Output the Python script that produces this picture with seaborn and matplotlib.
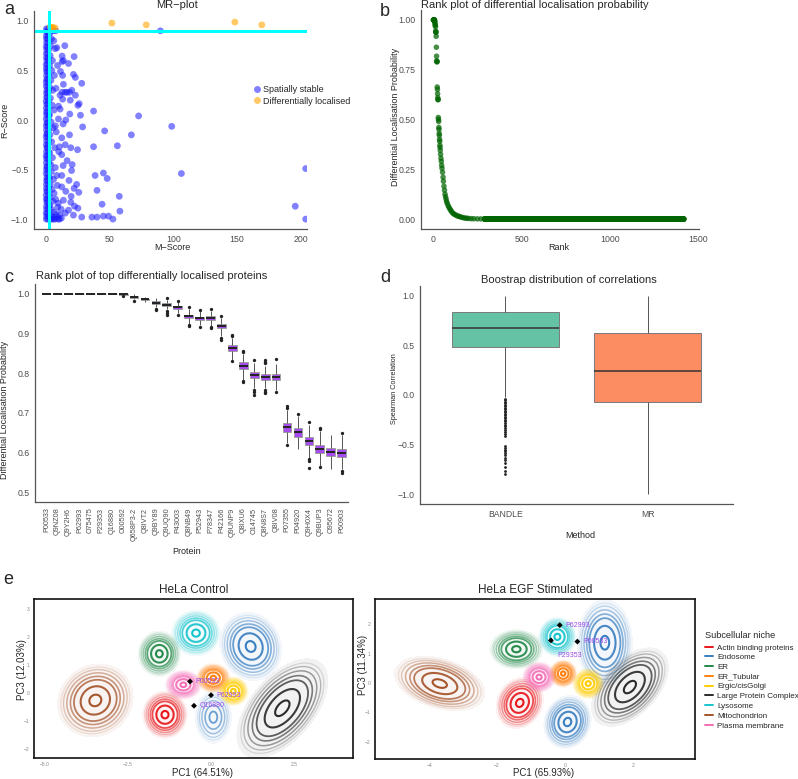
import numpy as np
import pandas as pd
import matplotlib
matplotlib.use("Agg")
import matplotlib.pyplot as plt
from matplotlib.colors import to_rgba
from matplotlib.lines import Line2D
import seaborn as sns

sns.set_style("white")
plt.rcParams["font.family"] = ["Liberation Sans", "DejaVu Sans"]

W, H = 798, 779

# ---------------------------------------------------------
# a: MR-plot (M-score vs R-score)
# ---------------------------------------------------------
A_M_CUTOFF = 2.4
A_R_CUTOFF = 0.9

# dense band of spatially stable proteins right at M ~ 0
A_BAND_R = [-1.0, -0.97, -0.94, -0.9, -0.87, -0.83, -0.8, -0.76, -0.72, -0.69, -0.65,
            -0.61, -0.58, -0.54, -0.5, -0.47, -0.43, -0.39, -0.36, -0.32, -0.28, -0.25,
            -0.21, -0.17, -0.14, -0.1, -0.06, -0.03, 0.01, 0.05, 0.08, 0.12, 0.16, 0.19,
            0.23, 0.27, 0.3, 0.34, 0.38, 0.41, 0.45, 0.49, 0.52, 0.56, 0.6, 0.63, 0.67,
            0.71, 0.74, 0.78, 0.82, 0.85, 0.89, 0.92]
A_BAND_M_LEFT = [0.2, 0.5, 0.1, 0.4, 0.3, 0.6, 0.2, 0.1, 0.5, 0.3, 0.2, 0.4, 0.6, 0.1,
                 0.3, 0.5, 0.2, 0.4, 0.1, 0.3, 0.6, 0.2, 0.4, 0.1, 0.5, 0.3, 0.2, 0.6,
                 0.1, 0.4, 0.3, 0.2, 0.5, 0.1, 0.4, 0.3, 0.6, 0.2, 0.1, 0.5, 0.3, 0.4,
                 0.2, 0.1, 0.6, 0.3, 0.2, 0.5, 0.1, 0.4, 0.3, 0.2, 0.5, 0.3]
A_BAND_M_RIGHT = [1.4, 1.9, 1.2, 1.7, 2.1, 1.5, 1.1, 1.8, 1.3, 2.0, 1.6, 1.2, 1.9, 1.4,
                  1.7, 1.1, 2.2, 1.5, 1.3, 1.8, 1.2, 1.6, 2.0, 1.4, 1.1, 1.9, 1.5, 1.3,
                  1.7, 2.1, 1.2, 1.6, 1.4, 1.8, 1.1, 1.5, 2.0, 1.3, 1.7, 1.2, 1.9, 1.4,
                  1.6, 1.1, 1.8, 1.5, 1.3, 2.0, 1.2, 1.6, 1.4, 1.7, 1.3, 1.5]

# stable proteins spilling out of the band
A_SPREAD_M = [3.0, 4.2, 5.5, 7.5, 3.5, 6.0, 8.5, 3.2, 5.0, 2.8, 4.5, 6.5, 3.8, 2.9, 5.2,
              7.8, 3.4, 4.8, 6.2, 2.7, 3.9, 5.6, 8.0, 3.1, 4.4, 6.8, 2.8, 5.0, 3.6, 7.2,
              4.1, 2.9, 5.8, 3.3, 4.7, 8.8, 6.3, 3.0, 5.4, 7.5, 2.8, 4.0, 6.0, 3.5, 5.0,
              7.0, 8.5, 9.5, 3.2, 4.5, 6.0, 10.5, 12.0, 8.0, 9.0]
A_SPREAD_R = [0.88, 0.82, 0.9, 0.9, 0.75, 0.8, 0.73, 0.65, 0.6, 0.55, 0.5, 0.45, 0.4,
              0.33, 0.3, 0.32, 0.22, 0.15, 0.1, 0.05, -0.02, -0.08, -0.12, -0.15, -0.22,
              -0.28, -0.33, -0.38, -0.45, -0.48, -0.52, -0.58, -0.6, -0.65, -0.7, -0.66,
              -0.74, -0.78, -0.82, -0.8, -0.86, -0.9, -0.93, -0.96, -0.98, -1.0, -0.98,
              -1.0, -1.0, -1.0, -1.0, -1.0, -0.99, -0.95, -0.88]

# scattered stable proteins further out
A_FAR_M = [89.8, 72.7, 98.7, 106.3, 204.0, 195.8, 204.0, 52.5, 49.0, 45.0, 36.0, 40.0,
           58.0, 57.5, 44.0, 40.0, 48.0, 45.0, 38.5, 37.3, 46.0, 56.0, 67.0, 37.3, 25.0,
           27.0, 28.7, 24.7, 19.4, 23.0, 26.0, 19.0, 20.2, 18.4, 28.0, 21.5, 23.0, 22.0,
           14.7, 12.6, 13.6, 12.6, 9.0, 7.2, 11.3, 17.6, 13.0, 13.6, 15.0, 12.6, 16.3,
           11.0, 13.0, 9.7, 11.0, 18.6, 15.5, 9.7, 13.4, 7.3, 18.4, 12.3, 15.0, 10.5,
           10.0, 12.3, 16.5, 20.5, 20.0, 13.4, 12.3, 8.4, 18.0, 24.0, 12.3, 15.5, 22.0,
           25.7, 19.7, 13.6, 9.7, 19.4, 22.3, 25.0, 17.6, 15.0, 28.0, 21.5, 10.5, 11.8]
A_FAR_R = [0.9, 0.041, -0.064, -0.54, -0.49, -0.87, -1.0, -1.0, -0.97, -0.97, -0.98, -0.98,
           -0.92, -0.77, -0.85, -0.71, -0.59, -0.535, -0.56, -0.27, -0.11, -0.26, -0.15,
           0.09, 0.148, 0.048, -0.07, -0.3, -0.28, 0.25, 0.165, 0.2, 0.3, 0.28, 0.37, 0.46,
           0.43, 0.64, 0.75, 0.645, 0.6, 0.59, 0.55, 0.72, 0.49, 0.57, 0.45, 0.36, 0.28,
           0.28, 0.28, 0.25, 0.21, 0.14, 0.11, 0.06, 0.0, 0.01, -0.04, -0.06, -0.15, -0.18,
           -0.25, -0.27, -0.32, -0.35, -0.41, -0.45, -0.51, -0.46, -0.56, -0.56, -0.61,
           -0.65, -0.675, -0.72, -0.69, -0.73, -0.77, -0.81, -0.84, -0.83, -0.87, -0.89,
           -0.91, -0.94, -0.98, -0.96, -0.96, -0.9]

A_DIFF_M = [3.2, 4.5, 5.5, 7.1, 51.7, 78.7, 148.3, 169.5]
A_DIFF_R = [0.94, 0.935, 0.93, 0.93, 0.978, 0.96, 0.988, 0.96]

# ---------------------------------------------------------
# b: rank plot of differential localisation probability
# ---------------------------------------------------------
B_RANK = list(range(1, 41)) + [42, 44, 46, 48, 50, 53, 56, 58, 61, 64, 67, 70, 73, 76, 80,
                               85, 90, 95, 100, 106, 113, 120, 128, 136, 144, 151, 160,
                               170, 180, 190, 200, 215, 230, 250, 270, 290]
B_PROB = [1.0, 1.0, 1.0, 1.0, 1.0, 1.0, 1.0, 0.999, 0.992, 0.986, 0.977, 0.973, 0.966,
          0.944, 0.939, 0.938, 0.918, 0.863, 0.818, 0.795, 0.79, 0.79, 0.663, 0.651,
          0.629, 0.609, 0.601, 0.599, 0.51, 0.5, 0.49, 0.46, 0.45, 0.43, 0.42, 0.4, 0.39,
          0.37, 0.36, 0.345,
          0.325, 0.305, 0.29, 0.27, 0.255, 0.235, 0.21, 0.19, 0.165, 0.145, 0.125, 0.112,
          0.1, 0.088, 0.078, 0.067, 0.058, 0.05, 0.043, 0.035, 0.028, 0.024, 0.02, 0.016,
          0.014, 0.012, 0.009, 0.007, 0.005, 0.004, 0.003, 0.002, 0.0015, 0.001, 0.0007,
          0.0004]
B_N_PROTEINS = 1420  # every protein past the last listed rank sits at 0

# ---------------------------------------------------------
# c: bootstrap boxes for the top proteins
# ---------------------------------------------------------
C_PROTEINS = ["P00533", "Q9NZ08", "Q9Y2H6", "P62993", "O75475", "P29353", "Q16880",
              "O00592", "Q658P3-2", "Q8IVT2", "Q9BY89", "Q9UQ90", "P43003", "Q8NB49",
              "P52943", "P78347", "P42166", "Q9UNP9", "Q8IXU6", "O14745", "Q8N8S7",
              "Q8IV08", "P07355", "P04920", "Q9H0X4", "Q9BUP3", "O95672", "P60903"]
C_MEDIAN = [1.0, 1.0, 1.0, 1.0, 1.0, 1.0, 1.0, 0.999, 0.992, 0.986, 0.977, 0.973, 0.966,
            0.944, 0.938, 0.939, 0.918, 0.863, 0.818, 0.795, 0.79, 0.79, 0.663, 0.651,
            0.629, 0.609, 0.601, 0.599]
C_Q1 = [1.0, 1.0, 1.0, 1.0, 1.0, 1.0, 1.0, 0.998, 0.99, 0.984, 0.974, 0.97, 0.963, 0.939,
        0.933, 0.934, 0.913, 0.856, 0.81, 0.787, 0.784, 0.783, 0.652, 0.64, 0.618, 0.599,
        0.591, 0.589]
C_Q3 = [1.0, 1.0, 1.0, 1.0, 1.0, 1.0, 1.0, 1.0, 0.995, 0.988, 0.981, 0.977, 0.969, 0.948,
        0.943, 0.944, 0.924, 0.87, 0.827, 0.804, 0.797, 0.798, 0.675, 0.661, 0.639, 0.62,
        0.61, 0.609]
C_WHISK_LO = [1.0, 1.0, 1.0, 1.0, 1.0, 1.0, 1.0, 0.997, 0.986, 0.979, 0.966, 0.961, 0.953,
              0.925, 0.921, 0.92, 0.893, 0.834, 0.783, 0.762, 0.763, 0.757, 0.625, 0.609,
              0.587, 0.566, 0.559, 0.557]
C_WHISK_HI = [1.0, 1.0, 1.0, 1.0, 1.0, 1.0, 1.0, 1.0, 1.0, 0.993, 0.99, 0.985, 0.979,
              0.962, 0.957, 0.958, 0.94, 0.888, 0.848, 0.826, 0.818, 0.822, 0.708, 0.692,
              0.67, 0.655, 0.645, 0.644]
C_FLIERS = [("O00592", 0.994), ("Q658P3-2", 0.983), ("Q9BY89", 0.962), ("Q9BY89", 0.959),
            ("Q9UQ90", 0.989), ("Q9UQ90", 0.957), ("Q9UQ90", 0.952), ("Q9UQ90", 0.947),
            ("P43003", 0.983), ("P43003", 0.947), ("Q8NB49", 0.967), ("Q8NB49", 0.922),
            ("Q8NB49", 0.919), ("P52943", 0.96), ("P52943", 0.916), ("P78347", 0.961),
            ("P78347", 0.916), ("P78347", 0.913), ("P42166", 0.944), ("P42166", 0.888),
            ("P42166", 0.884), ("Q9UNP9", 0.893), ("Q9UNP9", 0.896), ("Q9UNP9", 0.83),
            ("Q8IXU6", 0.853), ("Q8IXU6", 0.856), ("Q8IXU6", 0.78), ("Q8IXU6", 0.777),
            ("O14745", 0.832), ("O14745", 0.758), ("O14745", 0.753), ("O14745", 0.745),
            ("Q8N8S7", 0.825), ("Q8N8S7", 0.829), ("Q8N8S7", 0.833), ("Q8N8S7", 0.758),
            ("Q8N8S7", 0.753), ("Q8N8S7", 0.749), ("Q8IV08", 0.837), ("Q8IV08", 0.752),
            ("P07355", 0.713), ("P07355", 0.718), ("P07355", 0.619), ("P04920", 0.698),
            ("Q9H0X4", 0.676), ("Q9H0X4", 0.584), ("Q9H0X4", 0.578), ("Q9H0X4", 0.561),
            ("Q9BUP3", 0.662), ("Q9BUP3", 0.659), ("Q9BUP3", 0.563), ("P60903", 0.648),
            ("P60903", 0.553), ("P60903", 0.549)]

# ---------------------------------------------------------
# d: bootstrap distribution of correlations
# ---------------------------------------------------------
D_METHODS = ["BANDLE", "MR"]
D_MEDIAN = [0.681, 0.247]
D_Q1 = [0.486, -0.066]
D_Q3 = [0.839, 0.627]
D_WHISK_LO = [-0.025, -1.0]
D_WHISK_HI = [1.0, 1.0]
D_BANDLE_FLIERS = [-0.04, -0.055, -0.07, -0.085, -0.1, -0.115, -0.13, -0.145, -0.16,
                   -0.175, -0.19, -0.205, -0.22, -0.235, -0.25, -0.265, -0.28, -0.3,
                   -0.315, -0.33, -0.35, -0.37, -0.39, -0.41, -0.515, -0.53, -0.55,
                   -0.57, -0.59, -0.61, -0.635, -0.66, -0.69, -0.73, -0.77, -0.8]

# ---------------------------------------------------------
# e: PCA density contours per subcellular niche
# ---------------------------------------------------------
E_NICHES = ["Actin binding proteins", "Endosome", "ER", "ER_Tubular", "Ergic/cisGolgi",
            "Large Protein Complex", "Lysosome", "Mitochondrion", "Plasma membrane"]
E_COLOURS = ["#e8161b", "#3a7fc1", "#23894a", "#ff7f0e", "#ffcc00", "#2b2b2b",
             "#16c4cc", "#a5542b", "#f56fb8"]

# one row per density component: niche, centre, spread, correlation, weight
E_CTRL_NICHE = ["Actin binding proteins", "Endosome", "Endosome", "ER", "ER_Tubular",
                "Ergic/cisGolgi", "Large Protein Complex", "Lysosome", "Mitochondrion",
                "Plasma membrane"]
E_CTRL_X = [-1.38, 1.19, 0.07, -1.55, 0.07, 0.67, 2.14, -0.45, -3.47, -0.83]
E_CTRL_Y = [-0.77, 1.67, -0.86, 1.41, 0.54, 0.07, -0.54, 2.15, -0.26, 0.30]
E_CTRL_SX = [0.23, 0.32, 0.22, 0.22, 0.175, 0.155, 0.47, 0.25, 0.39, 0.19]
E_CTRL_SY = [0.29, 0.42, 0.38, 0.28, 0.18, 0.18, 0.61, 0.28, 0.45, 0.18]
E_CTRL_RHO = [0.0, -0.1, 0.0, 0.0, 0.0, 0.0, 0.55, 0.0, 0.1, 0.0]
E_CTRL_W = [1.0, 1.0, 0.3, 1.0, 1.0, 1.0, 1.0, 1.0, 1.0, 1.0]

E_EGF_NICHE = E_CTRL_NICHE
E_EGF_X = [-1.33, 1.18, 0.08, -1.43, -0.05, 0.69, 1.92, -0.22, -3.69, -0.76]
E_EGF_Y = [-0.68, 1.37, -1.33, 1.15, 0.32, -0.02, -0.14, 1.57, -0.02, 0.2]
E_EGF_SX = [0.24, 0.28, 0.24, 0.27, 0.14, 0.16, 0.39, 0.19, 0.46, 0.17]
E_EGF_SY = [0.3, 0.51, 0.31, 0.23, 0.16, 0.18, 0.46, 0.23, 0.32, 0.18]
E_EGF_RHO = [0.15, 0.0, 0.1, 0.0, 0.0, 0.0, 0.5, 0.0, -0.35, 0.0]
E_EGF_W = [1.0, 1.0, 1.0, 1.0, 1.0, 1.0, 1.0, 1.0, 1.0, 1.0]

E_CTRL_PROT = ["P00533", "P62993", "Q16880"]
E_CTRL_PX = [-0.63, 0.0, -0.51]
E_CTRL_PY = [0.42, -0.07, -0.45]
E_EGF_PROT = ["P62993", "P29353", "P00533"]
E_EGF_PX = [-0.15, -0.41, 0.37]
E_EGF_PY = [1.97, 1.45, 1.41]

# contour styling (fraction of each niche's peak density)
E_LEVELS = [0.03, 0.05, 0.09, 0.16, 0.26, 0.53, 0.9]
E_LEVEL_ALPHA = [0.15, 0.3, 0.45, 0.6, 0.75, 0.92, 1.0]
E_LEVEL_LW = [0.9, 1.0, 1.1, 1.2, 1.3, 1.5, 1.5]

TICK_GREY = "#4d4d4d"
AXIS_GREY = "#555555"
LABEL_PURPLE = "#9d4ae8"


def px_axes(fig, x0, y0, x1, y1):
    return fig.add_axes([x0 / W, 1 - y1 / H, (x1 - x0) / W, (y1 - y0) / H])


def px_text(fig, x, y, s, **kw):
    fig.text(x / W, 1 - y / H, s, **kw)


def classic_axes(ax, labelsize=6.3):
    for side in ["top", "right"]:
        ax.spines[side].set_visible(False)
    for side in ["left", "bottom"]:
        ax.spines[side].set_color(AXIS_GREY)
        ax.spines[side].set_linewidth(0.9)
    ax.tick_params(colors=AXIS_GREY, labelcolor=TICK_GREY, labelsize=labelsize,
                   length=2.5, width=0.6, pad=1.5)
    ax.set_xlabel("")
    ax.set_ylabel("")
    ax.grid(False)


def summary_sample(lo, q1, med, q3, hi, k=20):
    # a sample whose quartiles and extremes are exactly the read values
    return [lo] + [q1] * k + [med] * k + [q3] * k + [hi]


def draw_niches(ax, niche_col, xs, ys, sxs, sys_, rhos, ws, xlim, ylim):
    gx = np.linspace(xlim[0], xlim[1], 420)
    gy = np.linspace(ylim[0], ylim[1], 320)
    X, Y = np.meshgrid(gx, gy)
    for niche, colour in zip(E_NICHES, E_COLOURS):
        Z = np.zeros_like(X)
        for n, cx, cy, sx, sy, r, w in zip(niche_col, xs, ys, sxs, sys_, rhos, ws):
            if n != niche:
                continue
            dx = (X - cx) / sx
            dy = (Y - cy) / sy
            Z += w * np.exp(-(dx ** 2 - 2 * r * dx * dy + dy ** 2) / (2 * (1 - r ** 2)))
        Z /= Z.max()
        ax.contourf(X, Y, Z, levels=[0.015, 1.01], colors=[to_rgba(colour, 0.06)])
        cols = [to_rgba(colour, a) for a in E_LEVEL_ALPHA]
        ax.contour(X, Y, Z, levels=E_LEVELS, colors=cols, linewidths=E_LEVEL_LW)


def frame_axes(ax):
    for side in ["top", "right", "left", "bottom"]:
        ax.spines[side].set_visible(True)
        ax.spines[side].set_color("#111111")
        ax.spines[side].set_linewidth(1.2)
    ax.tick_params(length=0, labelsize=3.6, labelcolor="#8a8a8a", pad=3)
    ax.set_xlabel("")
    ax.set_ylabel("")
    ax.grid(False)


fig = plt.figure(figsize=(W / 100, H / 100), dpi=100)

# ---------------- a ----------------
ax = px_axes(fig, 34, 11, 307, 229)
stable_m = A_BAND_M_LEFT + A_BAND_M_RIGHT + A_SPREAD_M + A_FAR_M
stable_r = A_BAND_R + A_BAND_R + A_SPREAD_R + A_FAR_R
sns.scatterplot(x=stable_m, y=stable_r, color="#1a1aff", alpha=0.55, s=24,
                edgecolor="none", ax=ax)
sns.scatterplot(x=A_DIFF_M, y=A_DIFF_R, color="#ffa500", alpha=0.6, s=24,
                edgecolor="none", ax=ax)
ax.axvline(A_M_CUTOFF, color="#00ffff", lw=2.2)
ax.axhline(A_R_CUTOFF, color="#00ffff", lw=2.2)
ax.set_xlim(-9.5, 205)
ax.set_ylim(-1.1, 1.1)
ax.set_xticks([0, 50, 100, 150, 200])
ax.set_yticks([-1.0, -0.5, 0.0, 0.5, 1.0])
classic_axes(ax)
handles = [Line2D([0], [0], marker="o", ls="", color="#1a1aff", alpha=0.55, ms=5, mec="none"),
           Line2D([0], [0], marker="o", ls="", color="#ffa500", alpha=0.6, ms=5, mec="none")]
fig.legend(handles, ["Spatially stable", "Differentially localised"], loc="center left",
           bbox_to_anchor=(252 / W, 1 - 95.5 / H), frameon=False, fontsize=6.5,
           handletextpad=0.2, labelspacing=0.25, handlelength=1.0, borderaxespad=0,
           borderpad=0)
px_text(fig, 177, 5, "MR\u2212plot", fontsize=8, ha="center", va="center")
px_text(fig, 172, 248, "M\u2212Score", fontsize=6.5, ha="center", va="center")
px_text(fig, 5, 120, "R\u2212Score", fontsize=6.5, ha="center", va="center", rotation=90)

# ---------------- b ----------------
ax = px_axes(fig, 421, 10, 699, 229)
tail = np.arange(B_RANK[-1] + 1, B_N_PROTEINS + 1)
ranks = np.concatenate([B_RANK, tail])
probs = np.concatenate([B_PROB, np.zeros(len(tail))])
sns.scatterplot(x=ranks, y=probs, color="#006400", alpha=0.72, s=16, edgecolor="none", ax=ax)
ax.set_xlim(-69, 1505)
ax.set_ylim(-0.05, 1.05)
ax.set_xticks([0, 500, 1000, 1500])
ax.set_yticks([0.0, 0.25, 0.5, 0.75, 1.0])
ax.yaxis.set_major_formatter(matplotlib.ticker.FormatStrFormatter("%.2f"))
classic_axes(ax)
px_text(fig, 421, 5, "Rank plot of differential localisation probability", fontsize=8,
        ha="left", va="center")
px_text(fig, 559, 248, "Rank", fontsize=6.5, ha="center", va="center")
px_text(fig, 395, 117, "Differential Localisation Probability", fontsize=6.5,
        ha="center", va="center", rotation=90)

# ---------------- c ----------------
ax = px_axes(fig, 35, 284, 348, 502)
rows = []
for p, lo, q1, md, q3, hi in zip(C_PROTEINS, C_WHISK_LO, C_Q1, C_MEDIAN, C_Q3, C_WHISK_HI):
    rows += [(p, v) for v in summary_sample(lo, q1, md, q3, hi)]
c_df = pd.DataFrame(rows, columns=["Protein", "Probability"])
sns.boxplot(data=c_df, x="Protein", y="Probability", order=C_PROTEINS, color="#a64cf0",
            saturation=1, width=0.8, whis=(0, 100), showfliers=False, showcaps=False,
            linewidth=0.7, linecolor="#555555",
            boxprops=dict(edgecolor="#a0a0a0"),
            medianprops=dict(color="#222222", linewidth=1.4), ax=ax)
sns.stripplot(x=[p for p, v in C_FLIERS], y=[v for p, v in C_FLIERS], order=C_PROTEINS,
              jitter=False, color="#222222", size=2.4, ax=ax)
ax.set_xlim(-1.07, 27.58)
ax.set_ylim(0.475, 1.025)
ax.set_yticks([0.5, 0.6, 0.7, 0.8, 0.9, 1.0])
classic_axes(ax)
ax.tick_params(axis="x", labelrotation=90, labelsize=5.2)
px_text(fig, 36, 276, "Rank plot of top differentially localised proteins", fontsize=8,
        ha="left", va="center")
px_text(fig, 187, 552, "Protein", fontsize=6.5, ha="center", va="center")
px_text(fig, 5, 410, "Differential Localisation Probability", fontsize=6.5,
        ha="center", va="center", rotation=90)

# ---------------- d ----------------
ax = px_axes(fig, 420, 286, 733, 504)
rows = []
for m, lo, q1, md, q3, hi in zip(D_METHODS, D_WHISK_LO, D_Q1, D_MEDIAN, D_Q3, D_WHISK_HI):
    rows += [(m, v) for v in summary_sample(lo, q1, md, q3, hi)]
d_df = pd.DataFrame(rows, columns=["Method", "Correlation"])
sns.boxplot(data=d_df, x="Method", y="Correlation", hue="Method", order=D_METHODS,
            palette=dict(zip(D_METHODS, ["#66c2a5", "#fc8d62"])), legend=False,
            saturation=1, width=0.75, whis=(0, 100), showfliers=False, showcaps=False,
            linewidth=0.7, linecolor="#555555",
            boxprops=dict(edgecolor="#7a7a7a"),
            medianprops=dict(color="#333333", linewidth=1.1), ax=ax)
sns.stripplot(x=["BANDLE"] * len(D_BANDLE_FLIERS), y=D_BANDLE_FLIERS, order=D_METHODS,
              jitter=False, color="#222222", size=2.0, ax=ax)
ax.set_xlim(-0.6, 1.6)
ax.set_ylim(-1.1, 1.1)
ax.set_yticks([-1.0, -0.5, 0.0, 0.5, 1.0])
classic_axes(ax, labelsize=6.2)
px_text(fig, 569, 280, "Boostrap distribution of correlations", fontsize=8,
        ha="center", va="center")
px_text(fig, 580, 535, "Method", fontsize=6.5, ha="center", va="center")
px_text(fig, 395, 389, "Spearman Correlation", fontsize=5.2, ha="center", va="center",
        rotation=90)

# ---------------- e ----------------
ax = px_axes(fig, 34, 599, 353, 758)
xlim, ylim = (-5.31, 4.26), (-2.32, 3.37)
draw_niches(ax, E_CTRL_NICHE, E_CTRL_X, E_CTRL_Y, E_CTRL_SX, E_CTRL_SY, E_CTRL_RHO,
            E_CTRL_W, xlim, ylim)
sns.scatterplot(x=E_CTRL_PX, y=E_CTRL_PY, marker="D", color="black", s=9,
                edgecolor="none", ax=ax, zorder=5)
for name, px, py in zip(E_CTRL_PROT, E_CTRL_PX, E_CTRL_PY):
    ax.text(px + 0.17, py, name, color=LABEL_PURPLE, fontsize=5, va="center", zorder=6)
ax.set_xlim(*xlim)
ax.set_ylim(*ylim)
ax.set_xticks([-5.0, -2.5, 0.0, 2.5])
ax.set_yticks([-2, -1, 0, 1, 2, 3])
frame_axes(ax)
px_text(fig, 194, 590, "HeLa Control", fontsize=8.5, ha="center", va="center")
px_text(fig, 203, 773, "PC1 (64.51%)", fontsize=7, ha="center", va="center")
px_text(fig, 22, 670, "PC3 (12.03%)", fontsize=7, ha="center", va="center", rotation=90)

ax = px_axes(fig, 375, 599, 695, 759)
xlim, ylim = (-5.6, 3.84), (-2.59, 2.86)
draw_niches(ax, E_EGF_NICHE, E_EGF_X, E_EGF_Y, E_EGF_SX, E_EGF_SY, E_EGF_RHO,
            E_EGF_W, xlim, ylim)
sns.scatterplot(x=E_EGF_PX, y=E_EGF_PY, marker="D", color="black", s=9,
                edgecolor="none", ax=ax, zorder=5)
label_offset = {"P29353": (0.19, -0.51)}
for name, px, py in zip(E_EGF_PROT, E_EGF_PX, E_EGF_PY):
    dx, dy = label_offset.get(name, (0.18, 0.0))
    ax.text(px + dx, py + dy, name, color=LABEL_PURPLE, fontsize=5, va="center", zorder=6)
ax.set_xlim(*xlim)
ax.set_ylim(*ylim)
ax.set_xticks([-4, -2, 0, 2])
ax.set_yticks([-2, -1, 0, 1, 2])
frame_axes(ax)
px_text(fig, 535, 590, "HeLa EGF Stimulated", fontsize=8.5, ha="center", va="center")
px_text(fig, 544, 773, "PC1 (65.93%)", fontsize=7, ha="center", va="center")
px_text(fig, 363, 665, "PC3 (11.34%)", fontsize=7, ha="center", va="center", rotation=90)

# legend for e
px_text(fig, 705, 636, "Subcellular niche", fontsize=6.6, ha="left", va="center")
for i, (niche, colour) in enumerate(zip(E_NICHES, E_COLOURS)):
    y = 648 + i * 9.75
    fig.add_artist(Line2D([705 / W, 713 / W], [1 - (y - 1.5) / H] * 2, color=colour, lw=1.4))
    px_text(fig, 717, y, niche, fontsize=5.8, ha="left", va="center")

# panel letters
for letter, x, y in [("a", 9, 10), ("b", 385, 12), ("c", 9, 278), ("d", 385, 278),
                     ("e", 8, 580)]:
    px_text(fig, x, y, letter, fontsize=13, ha="center", va="center")

fig.savefig("out.png", dpi=100)
